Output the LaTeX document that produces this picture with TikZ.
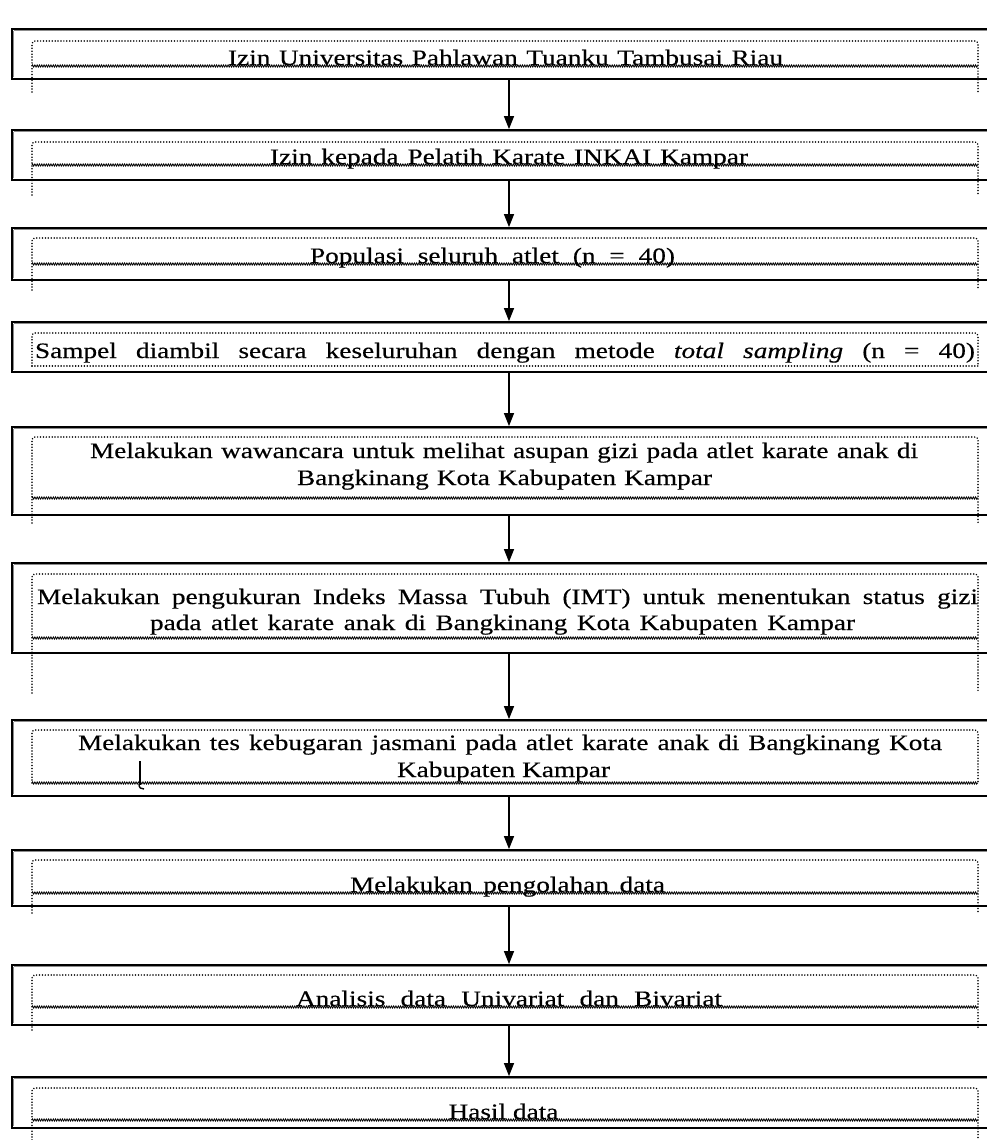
\documentclass[tikz,border=0pt]{standalone}
\usepackage{fontspec}
\setmainfont{Liberation Serif}[FakeStretch=1.24,FakeBold=0.35]
\usetikzlibrary{arrows.meta,calc,decorations.pathmorphing}
\tikzset{
  obox/.style={draw=black, line width=1.7pt, inner sep=0pt, minimum width=981pt},
  ibox/.style={draw=black!45, line width=0.7pt},
  dotline/.style={line width=1.7pt, line cap=round, dash pattern=on 0.01pt off 2.9pt, black},
  wavy/.style={black, line width=0.8pt, decorate, decoration={zigzag, amplitude=1.1pt, segment length=2.3pt}},
  arr/.style={line width=1.2pt, -{Triangle[width=10pt,length=13pt]}},
  txt/.style={inner sep=0pt, anchor=base, font=\fontsize{22}{26}\selectfont, text=black}
}
% name, outer top, outer bottom, inner top, inner bottom, dotted extension end, bottom style
\newcommand\flowbox[7]{%
  \node[obox, minimum height={(#3-#2)*1pt}] (#1) at (502.5,{(#2+#3)/2}) {};
  \draw[ibox] ($(#1.north west)+(2.4,2.4)$) -- ($(#1.north east)+(0,2.4)$);
  \draw[ibox] ($(#1.north west)+(2.4,2.4)$) -- ($(#1.south west)+(2.4,-2.4)$);
  \draw[dotline, rounded corners=3pt] (32,#6) -- (32,#4) -- (978,#4) -- (978,#6);
  \draw[#7] (32,#5) -- (978,#5);
}
\begin{document}
\begin{tikzpicture}[x=1pt,y=-1pt]
\useasboundingbox (0,0) rectangle (987,1140);
\clip (0,0) rectangle (987,1140);
\fill[white] (0,0) rectangle (987,1140);

\flowbox{b1}{29}{79}{41}{66}{92}{wavy}
\flowbox{b2}{130}{180}{142}{165}{195}{wavy}
\flowbox{b3}{228}{280}{238}{264}{290}{wavy}
\flowbox{b4}{322}{372}{333}{366}{366}{dotline}
\flowbox{b5}{427}{515}{437}{498}{523}{wavy}
\flowbox{b6}{563}{653}{574}{638}{693}{wavy}
\flowbox{b7}{720}{796}{730}{783}{783}{wavy}
\flowbox{b8}{850}{906}{860}{893}{913}{wavy}
\flowbox{b9}{965}{1025}{975}{1007}{1030}{wavy}
\flowbox{b10}{1077}{1128}{1088}{1120}{1140}{wavy}

\node[txt] (t1) at (505.5,65) {\makebox[555pt][s]{Izin Universitas Pahlawan Tuanku Tambusai Riau}};
\node[txt] (t2) at (509,164) {\makebox[478pt][s]{Izin kepada Pelatih Karate INKAI Kampar}};
\node[txt] (t3) at (492.5,263) {\makebox[365pt][s]{Populasi seluruh atlet (n = 40)}};
\node[txt] (t4) at (505,358) {\makebox[940pt][s]{Sampel diambil secara keseluruhan dengan metode \textit{total sampling} (n = 40)}};
\node[txt] (t5a) at (504,458) {\makebox[828pt][s]{Melakukan wawancara untuk melihat asupan gizi pada atlet karate anak di}};
\node[txt] (t5b) at (504.5,485) {\makebox[415pt][s]{Bangkinang Kota Kabupaten Kampar}};
\node[txt] (t6a) at (507.5,604) {\makebox[941pt][s]{Melakukan pengukuran Indeks Massa Tubuh (IMT) untuk menentukan status gizi}};
\node[txt] (t6b) at (502.5,630) {\makebox[705pt][s]{pada atlet karate anak di Bangkinang Kota Kabupaten Kampar}};
\node[txt] (t7a) at (510,750) {\makebox[864pt][s]{Melakukan tes kebugaran jasmani pada atlet karate anak di Bangkinang Kota}};
\node[txt] (t7b) at (503.5,777) {\makebox[213pt][s]{Kabupaten Kampar}};
\node[txt] (t8) at (507.5,892) {\makebox[315pt][s]{Melakukan pengolahan data}};
\node[txt] (t9) at (509,1006) {\makebox[426pt][s]{Analisis data Univariat dan Bivariat}};
\node[txt] (t10) at (503.5,1119) {Hasil data};

% cursor-like mark in box 7
\draw[line width=2.2pt] (140,761) -- (140,785);
\draw[line width=1.4pt] (139,784) .. controls (139,788) and (141,789) .. (144,789);

\coordinate (ax) at (509,0);
\foreach \a/\b in {b1/b2,b2/b3,b3/b4,b4/b5,b5/b6,b6/b7,b7/b8,b8/b9,b9/b10}
  \draw[arr] (\a.south -| ax) -- (\b.north -| ax);
\end{tikzpicture}
\end{document}
